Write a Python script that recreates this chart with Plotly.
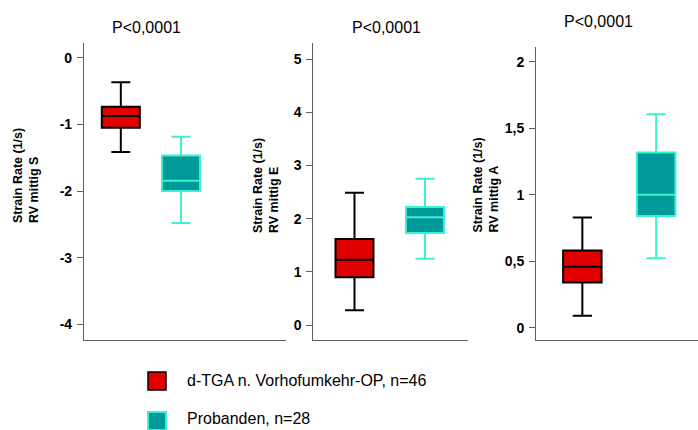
import plotly.graph_objects as go

# ---- data ----
series_names = ["d-TGA n. Vorhofumkehr-OP, n=46", "Probanden, n=28"]
panel_titles = ["P<0,0001", "P<0,0001", "P<0,0001"]
y_titles = ["Strain Rate (1/s)<br>RV mittig S",
            "Strain Rate (1/s)<br>RV mittig E",
            "Strain Rate (1/s)<br>RV mittig A"]

# panel S  (lower whisker, q1, median, q3, upper whisker)
s_tga = [-1.415, -1.05, -0.875, -0.735, -0.37]
s_prob = [-2.48, -2.0, -1.845, -1.465, -1.185]
# panel E
e_tga = [0.28, 0.90, 1.23, 1.62, 2.49]
e_prob = [1.245, 1.73, 2.03, 2.22, 2.75]
# panel A
a_tga = [0.09, 0.34, 0.458, 0.58, 0.828]
a_prob = [0.523, 0.84, 1.0, 1.318, 1.605]

tick_vals = [[-4, -3, -2, -1, 0], [0, 1, 2, 3, 4, 5], [0, 0.5, 1, 1.5, 2]]
tick_text = [["-4", "-3", "-2", "-1", "0"],
             ["0", "1", "2", "3", "4", "5"],
             ["0", "0,5", "1", "1,5", "2"]]

# ---- style ----
RED = "#E00000"
TEAL = "#009999"
TURQ = "#3CF0D2"
AXC = "#606060"
FONT = "Arial, Liberation Sans, sans-serif"

panels = [(s_tga, s_prob), (e_tga, e_prob), (a_tga, a_prob)]
x_domains = [[0.1203, 0.4097], [0.4491, 0.6698], [0.7679, 1.0]]
y_domains = [[0.2093, 0.8993], [0.2093, 0.8993], [0.2093, 0.8914]]
x_ranges = [[-0.6126, 2.7456], [-0.5816, 1.6028], [-0.628, 1.567]]
y_ranges = [[-4.234, 0.216], [-0.282, 5.301], [-0.0925, 2.113]]
box_w = [0.632, 0.539, 0.521]
title_pos = [(146.7, 27.5), (386.7, 27.5), (598.5, 21)]
ytitle_pos = [(25.5, 225), (265.5, 235), (485, 235)]

W, H = 698, 430
fig = go.Figure()

for i, (tga, prob) in enumerate(panels):
    xa = "x" if i == 0 else f"x{i+1}"
    ya = "y" if i == 0 else f"y{i+1}"
    for j, (vals, fill, lc) in enumerate([(tga, RED, "black"), (prob, TEAL, TURQ)]):
        fig.add_trace(go.Box(
            x=[j], lowerfence=[vals[0]], q1=[vals[1]], median=[vals[2]],
            q3=[vals[3]], upperfence=[vals[4]],
            name=series_names[j], showlegend=False,
            fillcolor=fill, line=dict(color=lc, width=2),
            width=box_w[i], whiskerwidth=0.5,
            xaxis=xa, yaxis=ya, hoverinfo="skip"))
    sfx = "" if i == 0 else str(i + 1)
    fig.layout["xaxis" + sfx] = dict(
        domain=x_domains[i], range=x_ranges[i], showline=True, linecolor=AXC,
        linewidth=1, showticklabels=False, ticks="", showgrid=False,
        zeroline=False, anchor=ya, fixedrange=True)
    fig.layout["yaxis" + sfx] = dict(
        domain=y_domains[i], range=y_ranges[i], showline=True, linecolor=AXC,
        linewidth=1, ticks="outside", ticklen=6, tickcolor=AXC, tickwidth=1,
        tickvals=tick_vals[i], ticktext=tick_text[i], showgrid=False,
        zeroline=False, anchor=xa, ticklabelstandoff=2, fixedrange=True,
        tickfont=dict(family=FONT, size=14, color="black", weight="bold"))
    tx, ty = title_pos[i]
    fig.add_annotation(text=panel_titles[i], x=tx / W, y=1 - ty / H,
                       xref="paper", yref="paper", showarrow=False,
                       xanchor="center", yanchor="middle",
                       font=dict(family=FONT, size=16, color="black"))
    ax_, ay_ = ytitle_pos[i]
    fig.add_annotation(text="<b>" + y_titles[i].replace("<br>", "</b><br><b>") + "</b>",
                       x=ax_ / W, y=1 - ay_ / H,
                       xref="paper", yref="paper", showarrow=False,
                       textangle=-90, align="left",
                       xanchor="center", yanchor="bottom",
                       font=dict(family=FONT, size=12.5, color="black"))

# ---- legend (manual) ----
leg = [(RED, "black", 1.5, 372, 380), (TEAL, TURQ, 2, 412, 418.5)]
for k, (fc, lc, lw, top, ty) in enumerate(leg):
    fig.add_shape(type="rect", xref="paper", yref="paper",
                  x0=148 / W, x1=166 / W, y0=1 - (top + 18) / H, y1=1 - top / H,
                  fillcolor=fc, line=dict(color=lc, width=lw))
    fig.add_annotation(text=series_names[k], x=185 / W, y=1 - ty / H,
                       xref="paper", yref="paper", showarrow=False,
                       xanchor="left", yanchor="middle",
                       font=dict(family=FONT, size=16, color="black"))

fig.update_layout(width=W, height=H, margin=dict(l=0, r=0, t=0, b=0),
                  paper_bgcolor="white", plot_bgcolor="white")
fig.write_html("out.html", config={"displayModeBar": False},
               post_script="document.body.style.margin='0px';document.body.style.overflow='hidden';")
